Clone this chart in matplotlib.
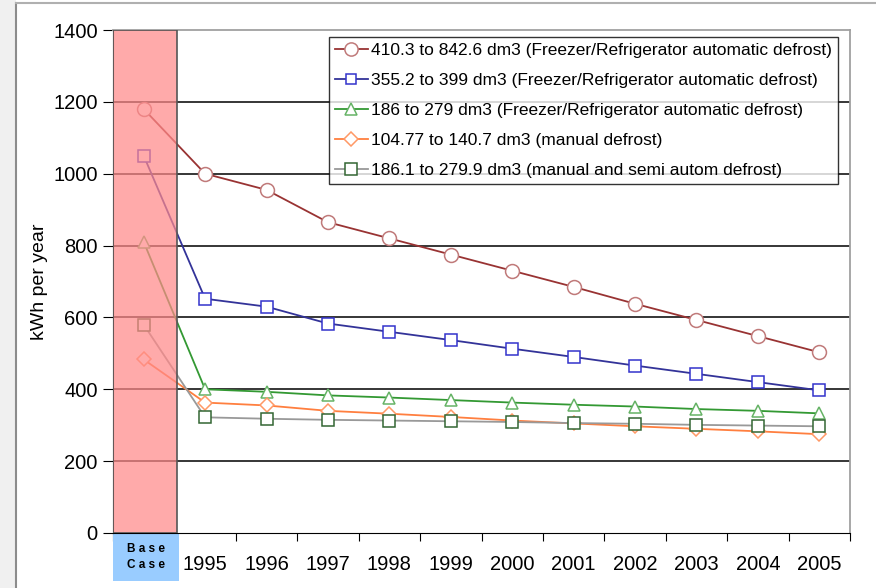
import matplotlib
matplotlib.use('Agg')
from matplotlib import pyplot as plt
from matplotlib.patches import Rectangle

plt.rcParams['font.family'] = ['Liberation Sans', 'DejaVu Sans']

# categories (index 0 = base case)
years = ['Base\nCase', '1995', '1996', '1997', '1998', '1999', '2000', '2001', '2002', '2003', '2004', '2005']

s_410 = [1180, 1000, 955, 865, 820, 775, 730, 685, 638, 593, 548, 503]
s_355 = [1050, 652, 630, 583, 560, 537, 513, 490, 466, 443, 420, 397]
s_186 = [810, 400, 393, 383, 377, 370, 363, 357, 352, 345, 340, 333]
s_104 = [483, 363, 355, 340, 332, 323, 313, 305, 297, 290, 283, 275]
s_186m = [580, 322, 318, 315, 313, 311, 309, 306, 304, 301, 299, 297]

labels = ['410.3 to 842.6 dm3 (Freezer/Refrigerator automatic defrost)',
          '355.2 to 399 dm3 (Freezer/Refrigerator automatic defrost)',
          '186 to 279 dm3 (Freezer/Refrigerator automatic defrost)',
          '104.77 to 140.7 dm3 (manual defrost)',
          '186.1 to 279.9 dm3 (manual and semi autom defrost)']

W, H = 876, 588
fig = plt.figure(figsize=(W/100, H/100), dpi=100, facecolor='white')
# grey strip + chart border
fig.patches.append(Rectangle((0, 0), 16/W, 1, transform=fig.transFigure, facecolor='#f0f0f0', edgecolor='none'))
fig.add_artist(plt.Line2D([16/W, 16/W], [0, 1-3/H], transform=fig.transFigure, color='#8c8c8c', lw=1.5))
fig.add_artist(plt.Line2D([16/W, 1], [1-3/H, 1-3/H], transform=fig.transFigure, color='#b0b0b0', lw=1.5))

ax = fig.add_axes([113/W, 1-533/H, (850-113)/W, (533-30)/H])
x = list(range(len(years)))

styles = [
    (s_410, '#993333', 'o', '#c07a7a', 10),
    (s_355, '#333399', 's', '#3333cc', 8),
    (s_186, '#339933', '^', '#66b366', 9),
    (s_104, '#ff7f3f', 'D', '#ff9966', 7.5),
    (s_186m, '#999999', 's', '#336633', 9),
]
for (vals, col, mk, mec, ms), lab in zip(styles, labels):
    ax.plot(x, vals, color=col, lw=1.3, marker=mk, ms=ms, mfc='white', mec=mec, mew=1.1, label=lab, zorder=3)

# base case band
ax.add_patch(Rectangle((-0.5, 0), 1.05, 1400, facecolor='#ff8a8a', alpha=0.72, edgecolor='none', zorder=4))
ax.add_patch(Rectangle((-0.5, 0), 1.05, 1400, facecolor='none', edgecolor='#555555', lw=1.2, zorder=5))

ax.set_xlim(-0.5, 11.5)
ax.set_ylim(0, 1400)
ax.set_yticks(range(0, 1401, 200))
ax.set_yticklabels([str(v) for v in range(0, 1401, 200)], fontsize=14.5)
for v in range(200, 1400, 200):
    ax.axhline(v, color='black', lw=1.1, zorder=1)
ax.set_xticks([i + 0.5 for i in range(-1, 12)])
ax.set_xticklabels([])
ax.tick_params(axis='x', length=6, color='black')
ax.tick_params(axis='y', length=7, color='black', pad=4)
for i, yr in enumerate(years[1:], start=1):
    ax.text(i, -88, yr, ha='center', va='center', fontsize=14.5)
# blue base case box under the band
ax.add_patch(Rectangle((-0.5, -133), 1.07, 133, facecolor='#99ccff', edgecolor='none', clip_on=False, zorder=2))
ax.text(0.03, -66, 'B a s e\nC a s e', ha='center', va='center', fontsize=8.5, fontweight='bold', linespacing=1.4)
ax.set_ylabel('kWh per year', fontsize=14, labelpad=4)

for s in ['top', 'right']:
    ax.spines[s].set_color('#a0a0a0')
    ax.spines[s].set_linewidth(1.3)
for s in ['left', 'bottom']:
    ax.spines[s].set_color('black')

leg = ax.legend(loc='upper right', bbox_to_anchor=(0.984, 0.986), fontsize=12.5, frameon=True, fancybox=False,
                edgecolor='black', handlelength=1.9, handletextpad=0.2, borderpad=0.35, labelspacing=0.85,
                borderaxespad=0, markerscale=0.95)
leg.get_frame().set_linewidth(1.0)

fig.savefig('out.png', dpi=100)
